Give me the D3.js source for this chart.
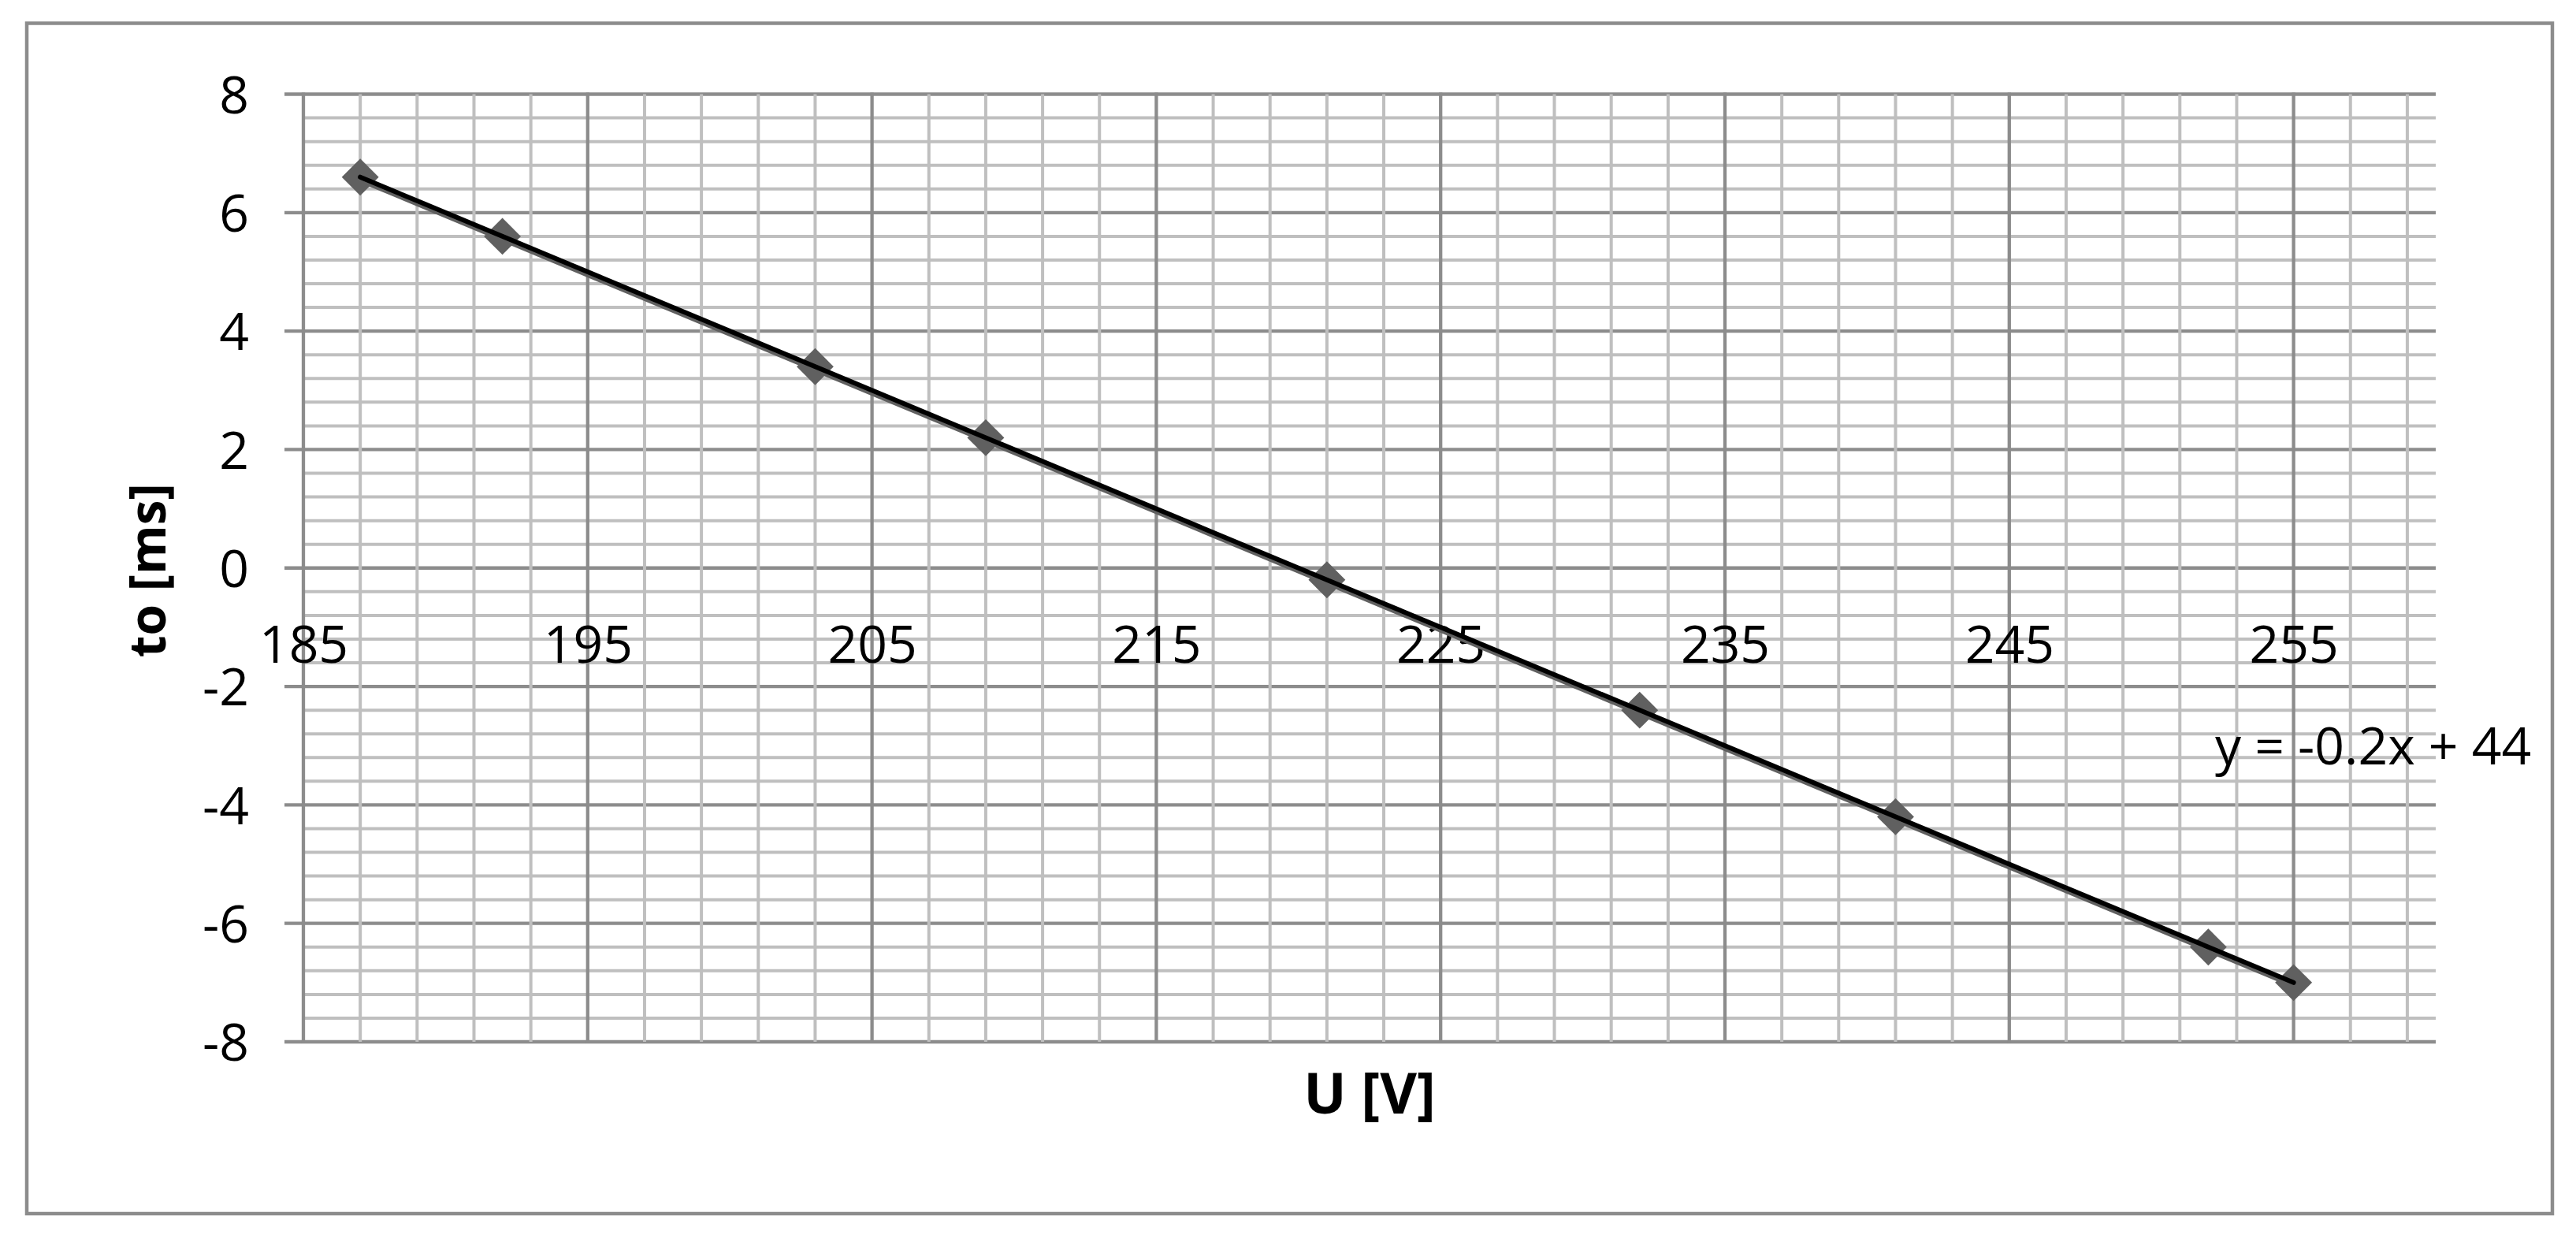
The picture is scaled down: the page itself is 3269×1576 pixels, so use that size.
<!DOCTYPE html>
<html>
<head>
<meta charset="utf-8">
<script src="https://cdn.jsdelivr.net/npm/d3@7"></script>
<style>
  body { margin: 0; background: #fff; }
  text { font-family: "Open Sans", sans-serif; fill: #000; }
</style>
</head>
<body>
<script>
// measured points: voltage U [V] and time to [ms]
var voltage = [187, 192, 203, 209, 221, 232, 241, 252, 255];
var timeMs = [6.6, 5.6, 3.4, 2.2, -0.2, -2.4, -4.2, -6.4, -7];

var xTicks = [185, 195, 205, 215, 225, 235, 245, 255];
var yTicks = [-8, -6, -4, -2, 0, 2, 4, 6, 8];

var xTitle = "U [V]";
var yTitle = "to [ms]";

// svg size and plot box
var w = 3269;
var h = 1576;
var plot = { left: 385, top: 119.5, right: 3091, bottom: 1322 };

var svg = d3.select("body").append("svg")
  .attr("width", w)
  .attr("height", h);

// outer chart border
svg.append("rect")
  .attr("x", 34)
  .attr("y", 29.5)
  .attr("width", 3205)
  .attr("height", 1510.5)
  .attr("fill", "none")
  .attr("stroke", "#8c8c8c")
  .attr("stroke-width", 4.5);

var x = d3.scaleLinear().domain([185, 260]).range([plot.left, plot.right]);
var y = d3.scaleLinear().domain([-8, 8]).range([plot.bottom, plot.top]);

// grid: minor every 0.4 on y, every 2 on x
var hLines = d3.range(0, 41).map(function(i) { return { v: -8 + i * 0.4, major: i % 5 == 0 }; });
var vLines = d3.range(0, 38).map(function(i) { return { v: 185 + i * 2, major: i % 5 == 0 }; });

var grid = svg.append("g");

grid.selectAll("line.hminor")
  .data(hLines.filter(function(d) { return !d.major; }))
  .enter().append("line")
  .attr("x1", plot.left).attr("x2", plot.right)
  .attr("y1", function(d) { return y(d.v); })
  .attr("y2", function(d) { return y(d.v); })
  .attr("stroke", "#bfbfbf").attr("stroke-width", 4);

grid.selectAll("line.hmajor")
  .data(hLines.filter(function(d) { return d.major; }))
  .enter().append("line")
  .attr("x1", plot.left - 24).attr("x2", plot.right)
  .attr("y1", function(d) { return y(d.v); })
  .attr("y2", function(d) { return y(d.v); })
  .attr("stroke", "#8c8c8c").attr("stroke-width", 4.3);

grid.selectAll("line.vminor")
  .data(vLines.filter(function(d) { return !d.major; }))
  .enter().append("line")
  .attr("y1", plot.top).attr("y2", plot.bottom)
  .attr("x1", function(d) { return x(d.v); })
  .attr("x2", function(d) { return x(d.v); })
  .attr("stroke", "#bfbfbf").attr("stroke-width", 4);

grid.selectAll("line.vmajor")
  .data(vLines.filter(function(d) { return d.major; }))
  .enter().append("line")
  .attr("y1", plot.top - 2).attr("y2", plot.bottom + 2)
  .attr("x1", function(d) { return x(d.v); })
  .attr("x2", function(d) { return x(d.v); })
  .attr("stroke", "#8c8c8c").attr("stroke-width", 4.3);

// axis labels
var yAxis = svg.append("g")
  .attr("transform", "translate(" + plot.left + ",0)")
  .call(d3.axisLeft(y).tickValues(yTicks).tickSize(24).tickPadding(45)
    .tickFormat(function(d) { return String(d); }));
yAxis.select(".domain").remove();
yAxis.selectAll(".tick line").remove();
yAxis.selectAll("text")
  .attr("dy", "0.36em")
  .style("font-family", "'Open Sans', sans-serif")
  .style("font-size", "66px")
  .attr("fill", "#000");

var xAxis = svg.append("g")
  .attr("transform", "translate(0," + y(0) + ")")
  .call(d3.axisBottom(x).tickValues(xTicks).tickSize(0).tickPadding(73.5)
    .tickFormat(function(d) { return String(d); }));
xAxis.select(".domain").remove();
xAxis.selectAll("text")
  .style("font-family", "'Open Sans', sans-serif")
  .style("font-size", "66px")
  .attr("fill", "#000");

// series line
var pts = voltage.map(function(v, i) { return [v, timeMs[i]]; });
var line = d3.line()
  .x(function(d) { return x(d[0]); })
  .y(function(d) { return y(d[1]); });

svg.append("path")
  .datum(pts)
  .attr("d", line)
  .attr("transform", "translate(0,2.5)")
  .attr("fill", "none")
  .attr("stroke", "#606060")
  .attr("stroke-width", 8.5);

// diamond markers
svg.selectAll("path.marker")
  .data(pts)
  .enter().append("path")
  .attr("class", "marker")
  .attr("d", d3.symbol(d3.symbolSquare, 1100))
  .attr("transform", function(d) { return "translate(" + x(d[0]) + "," + y(d[1]) + ") rotate(45)"; })
  .attr("fill", "#606060");

// linear trendline (least squares)
var mx = d3.mean(voltage), my = d3.mean(timeMs);
var sxy = d3.sum(voltage, function(v, i) { return (v - mx) * (timeMs[i] - my); });
var sxx = d3.sum(voltage, function(v) { return (v - mx) * (v - mx); });
var slope = sxy / sxx;
var intercept = my - slope * mx;
var ends = d3.extent(voltage);

svg.append("path")
  .datum(ends.map(function(v) { return [v, slope * v + intercept]; }))
  .attr("d", line)
  .attr("fill", "none")
  .attr("stroke", "#000")
  .attr("stroke-width", 6)
  .attr("stroke-linecap", "round");

svg.append("text")
  .attr("x", plot.right - 280)
  .attr("y", 970)
  .style("font-size", "66px")
  .text("y = " + (+slope.toFixed(2)) + "x + " + (+intercept.toFixed(2)));

// titles
svg.append("text")
  .attr("x", (plot.left + plot.right) / 2)
  .attr("y", 1413)
  .attr("text-anchor", "middle")
  .style("font-size", "72px")
  .style("font-weight", "bold")
  .text(xTitle);

svg.append("text")
  .attr("transform", "translate(210," + ((plot.top + plot.bottom) / 2 + 3) + ") rotate(-90)")
  .attr("text-anchor", "middle")
  .style("font-size", "64px")
  .style("font-weight", "bold")
  .text(yTitle);
</script>
</body>
</html>
